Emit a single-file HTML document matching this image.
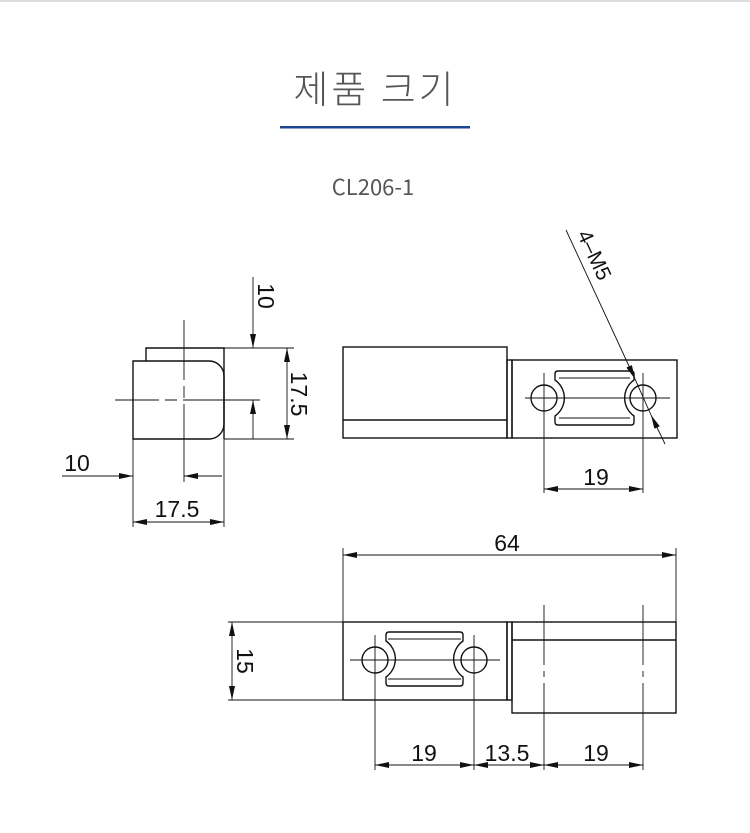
<!DOCTYPE html>
<html><head><meta charset="utf-8"><style>
body{margin:0;background:#fff;width:750px;height:828px;overflow:hidden}
</style></head><body>
<svg width="750" height="828" viewBox="0 0 750 828" xmlns="http://www.w3.org/2000/svg">
<defs>
<marker id="a" viewBox="0 0 14 6" refX="14" refY="3" markerWidth="14" markerHeight="6" markerUnits="userSpaceOnUse" orient="auto-start-reverse"><path d="M0,0 L14,3 L0,6 z" fill="#111"/></marker>
</defs>
<rect x="0" y="0" width="750" height="2" fill="#ddd"/>
<text x="375" y="103" text-anchor="middle" font-family="'Noto Sans CJK KR','NanumGothic',sans-serif" font-weight="300" font-size="38" fill="#555" letter-spacing="3">제품 크기</text>
<rect x="280" y="126" width="190" height="2.5" fill="#1d4690"/>
<text x="373" y="195" text-anchor="middle" font-family="'Noto Sans CJK KR',sans-serif" font-size="22" fill="#555">CL206-1</text>

<g stroke="#111" fill="none" stroke-width="1.4">
<path d="M146,361 V348 H224 V439"/>
<path d="M133,361 H209 A15,15 0 0 1 224,376 V424 A15,15 0 0 1 209,439 H133 Z"/>
</g>
<g stroke="#111" fill="none" stroke-width="0.9">
<line x1="184" y1="320" x2="184" y2="482" stroke-dasharray="60,6,12,6,80"/>
<line x1="115" y1="400" x2="260" y2="400" stroke-dasharray="44,6,12,6,80"/>
<line x1="224" y1="348" x2="294" y2="348"/>
<line x1="224" y1="439" x2="294" y2="439"/>
<line x1="287" y1="348" x2="287" y2="439" marker-start="url(#a)" marker-end="url(#a)"/>
<line x1="253" y1="277" x2="253" y2="348" marker-end="url(#a)"/>
<line x1="253" y1="439" x2="253" y2="400" marker-end="url(#a)"/>
<line x1="133" y1="439" x2="133" y2="527"/>
<line x1="224" y1="439" x2="224" y2="527"/>
<line x1="62" y1="476" x2="133" y2="476" marker-end="url(#a)"/>
<line x1="222" y1="476" x2="184" y2="476" marker-end="url(#a)"/>
<line x1="133" y1="522" x2="224" y2="522" marker-start="url(#a)" marker-end="url(#a)"/>
</g>
<g font-family="'Liberation Sans',sans-serif" font-size="23" fill="#111">
<text x="258" y="296" transform="rotate(90 258 296)" text-anchor="middle">10</text>
<text x="291" y="394" transform="rotate(90 291 394)" text-anchor="middle">17.5</text>
<text x="77" y="471" text-anchor="middle">10</text>
<text x="177" y="517" text-anchor="middle">17.5</text>
</g>

<g stroke="#111" fill="none" stroke-width="1.4">
<rect x="343" y="347" width="164" height="91"/>
<line x1="343" y1="420" x2="507" y2="420"/>
<rect x="507" y="360" width="5" height="78"/>
<rect x="512" y="360" width="165" height="78"/>
<circle cx="544" cy="398" r="13"/>
<circle cx="643" cy="398" r="13"/>
<path d="M558,371 H631 Q634,371 634,374 V380 A22,22 0 0 0 634,416 V422 Q634,425 631,425 H558 Q555,425 555,422 V416 A22,22 0 0 0 555,380 V374 Q555,371 558,371 Z"/>
<path d="M559,378 H630 M559,418 H630" stroke-width="1"/>
</g>
<g stroke="#111" fill="none" stroke-width="0.9">
<line x1="525" y1="398" x2="670" y2="398"/>
<line x1="544" y1="373" x2="544" y2="493"/>
<line x1="643" y1="373" x2="643" y2="493"/>
<line x1="544" y1="489" x2="643" y2="489" marker-start="url(#a)" marker-end="url(#a)"/>
<line x1="566" y1="230" x2="635" y2="379" marker-end="url(#a)"/>
<line x1="665" y1="444" x2="651" y2="415" marker-end="url(#a)"/>
<line x1="635" y1="379" x2="651" y2="415"/>
</g>
<g font-family="'Liberation Sans',sans-serif" font-size="23" fill="#111">
<text x="596" y="485" text-anchor="middle">19</text>
<text x="588" y="258" transform="rotate(65 588 258)" text-anchor="middle" font-size="21">4–M5</text>
</g>

<g stroke="#111" fill="none" stroke-width="1.4">
<rect x="343" y="622" width="164" height="78"/>
<rect x="507" y="622" width="5" height="78"/>
<rect x="512" y="622" width="164" height="91"/>
<line x1="512" y1="640" x2="676" y2="640"/>
<circle cx="375" cy="660" r="13"/>
<circle cx="474" cy="660" r="13"/>
<path d="M389,632 H460 Q463,632 463,635 V641 A22,22 0 0 0 463,677 V683 Q463,686 460,686 H389 Q386,686 386,683 V677 A22,22 0 0 0 386,641 V635 Q386,632 389,632 Z"/>
<path d="M388,639 H461 M388,679 H461" stroke-width="1"/>
</g>
<g stroke="#111" fill="none" stroke-width="0.9">
<line x1="343" y1="548" x2="343" y2="622"/>
<line x1="676" y1="548" x2="676" y2="622"/>
<line x1="343" y1="555" x2="676" y2="555" marker-start="url(#a)" marker-end="url(#a)"/>
<line x1="228" y1="622" x2="343" y2="622"/>
<line x1="228" y1="700" x2="343" y2="700"/>
<line x1="232" y1="622" x2="232" y2="700" marker-start="url(#a)" marker-end="url(#a)"/>
<line x1="350" y1="660" x2="500" y2="660"/>
<line x1="375" y1="635" x2="375" y2="770"/>
<line x1="474" y1="635" x2="474" y2="770"/>
<line x1="544" y1="605" x2="544" y2="770" stroke-dasharray="60,6,6,6,200"/>
<line x1="643" y1="605" x2="643" y2="770" stroke-dasharray="60,6,6,6,200"/>
<line x1="375" y1="765" x2="474" y2="765" marker-start="url(#a)" marker-end="url(#a)"/>
<line x1="474" y1="765" x2="544" y2="765" marker-start="url(#a)" marker-end="url(#a)"/>
<line x1="544" y1="765" x2="643" y2="765" marker-start="url(#a)" marker-end="url(#a)"/>
</g>
<g font-family="'Liberation Sans',sans-serif" font-size="23" fill="#111">
<text x="507" y="551" text-anchor="middle">64</text>
<text x="237" y="661" transform="rotate(90 237 661)" text-anchor="middle">15</text>
<text x="424" y="761" text-anchor="middle">19</text>
<text x="507" y="761" text-anchor="middle">13.5</text>
<text x="596" y="761" text-anchor="middle">19</text>
</g>
</svg>
</body></html>
